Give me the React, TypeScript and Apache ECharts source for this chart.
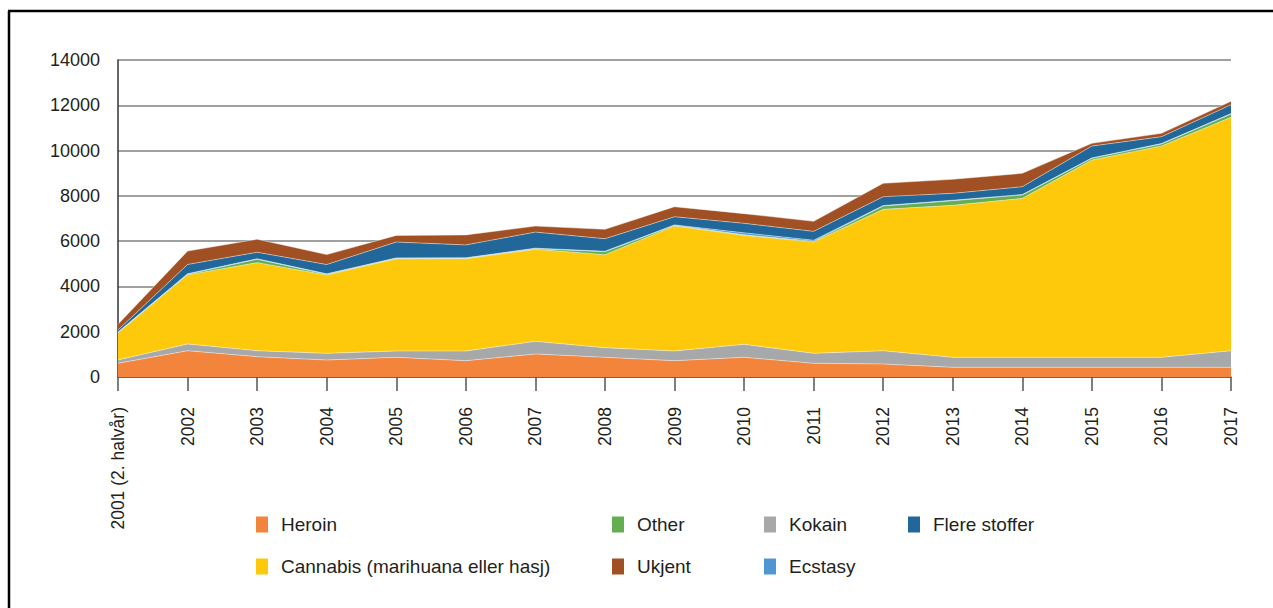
import React, { useEffect, useRef } from "react";
import * as echarts from "echarts";

const years = ["2001 (2. halvår)", "2002", "2003", "2004", "2005", "2006", "2007", "2008", "2009", "2010", "2011", "2012", "2013", "2014", "2015", "2016", "2017"];
const heroin = [605, 1160, 897, 750, 870, 720, 1016, 870, 720, 870, 605, 574, 428, 428, 428, 428, 428];
const kokain = [150, 300, 263, 296, 280, 428, 560, 424, 428, 574, 441, 586, 442, 442, 442, 442, 732];
const cannabis = [1200, 3050, 3890, 3460, 4070, 4076, 4063, 4107, 5520, 4813, 4916, 6244, 6710, 7020, 8712, 9330, 10308];
const other = [10, 30, 150, 30, 20, 20, 30, 132, 30, 20, 30, 147, 206, 147, 74, 90, 146];
const ecstasy = [20, 20, 20, 20, 20, 20, 20, 20, 20, 90, 50, 20, 20, 20, 20, 20, 20];
const flere = [90, 410, 290, 410, 700, 570, 710, 554, 360, 420, 390, 392, 305, 346, 524, 302, 391];
const ukjent = [250, 590, 575, 440, 292, 441, 265, 415, 441, 428, 442, 591, 619, 592, 120, 148, 150];
const yTicks = [0, 2000, 4000, 6000, 8000, 10000, 12000, 14000];

const seriesDefs = [
  { name: "Heroin", data: heroin, color: "#F3843B" },
  { name: "Kokain", data: kokain, color: "#A7A8AA" },
  { name: "Cannabis (marihuana eller hasj)", data: cannabis, color: "#FDC90A" },
  { name: "Other", data: other, color: "#64AE52" },
  { name: "Ecstasy", data: ecstasy, color: "#4F97D2" },
  { name: "Flere stoffer", data: flere, color: "#21679A" },
  { name: "Ukjent", data: ukjent, color: "#A05022" },
];

const legendPos = [
  { name: "Heroin", left: 256, top: 515 },
  { name: "Other", left: 612, top: 515 },
  { name: "Kokain", left: 764, top: 515 },
  { name: "Flere stoffer", left: 908, top: 515 },
  { name: "Cannabis (marihuana eller hasj)", left: 256, top: 557 },
  { name: "Ukjent", left: 612, top: 557 },
  { name: "Ecstasy", left: 764, top: 557 },
];

const FONT = "Liberation Sans";

export default function App() {
  const ref = useRef<HTMLDivElement>(null);
  useEffect(() => {
    if (!ref.current) return;
    const chart = echarts.init(ref.current, null, { renderer: "svg" });
    chart.setOption({
      animation: false,
      backgroundColor: "#ffffff",
      grid: { left: 118, right: 42, top: 60, bottom: 231, containLabel: false },
      xAxis: {
        type: "category",
        data: years,
        boundaryGap: false,
        axisLine: { show: true, lineStyle: { color: "#555555", width: 1.5 } },
        axisTick: { show: true, alignWithLabel: true, length: 14, lineStyle: { color: "#555555", width: 1.5 } },
        axisLabel: { rotate: 90, margin: 30, fontSize: 17.5, fontFamily: FONT, color: "#231f20", interval: 0 },
        splitLine: { show: false },
      },
      yAxis: {
        type: "value",
        min: yTicks[0],
        max: yTicks[yTicks.length - 1],
        interval: 2000,
        axisLine: { show: true, lineStyle: { color: "#333333", width: 1.5 } },
        axisTick: { show: false },
        axisLabel: { margin: 18, fontSize: 18, fontFamily: FONT, color: "#231f20", formatter: (v: number) => String(v) },
        splitLine: { show: true, lineStyle: { color: "#808080", width: 1.5 } },
      },
      legend: legendPos.map((l) => ({
        data: [l.name],
        left: l.left,
        top: l.top,
        padding: 0,
        icon: "rect",
        itemWidth: 12,
        itemHeight: 16,
        selectedMode: false,
        textStyle: { fontSize: 19, fontFamily: FONT, color: "#231f20", padding: [0, 0, 0, 8] },
      })),
      series: seriesDefs.map((s) => ({
        name: s.name,
        type: "line",
        stack: "total",
        data: s.data,
        symbol: "none",
        color: s.color,
        lineStyle: { width: 0.8, color: "rgba(255,255,255,0.55)" },
        areaStyle: { color: s.color, opacity: 1 },
        itemStyle: { color: s.color },
      })),
      graphic: [
        { type: "line", shape: { x1: 8, y1: 11, x2: 1273, y2: 11 }, style: { stroke: "#000", lineWidth: 2.5 } },
        { type: "line", shape: { x1: 9, y1: 11, x2: 9, y2: 608 }, style: { stroke: "#000", lineWidth: 2.5 } },
      ],
    });
    return () => chart.dispose();
  }, []);
  return <div ref={ref} style={{ position: "absolute", left: 0, top: 0, width: 1273, height: 608 }} />;
}
